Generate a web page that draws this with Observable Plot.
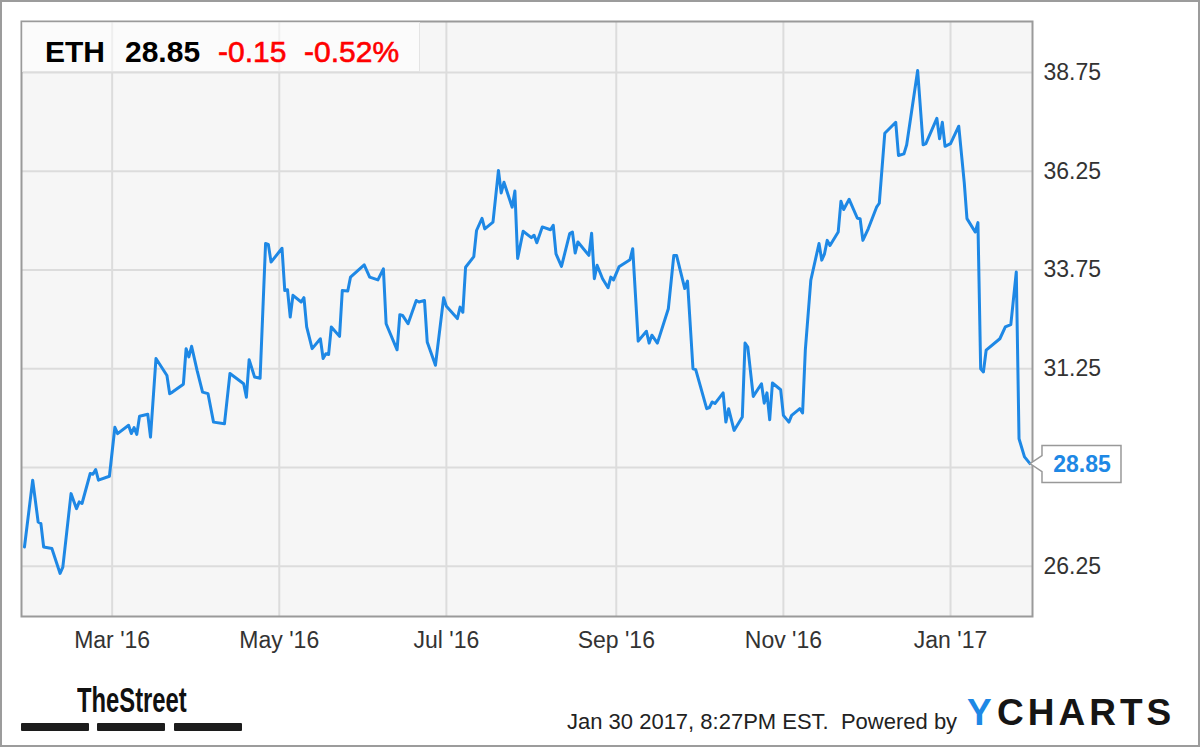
<!DOCTYPE html>
<html><head><meta charset="utf-8">
<script src="https://cdn.jsdelivr.net/npm/d3@7"></script>
<script src="https://cdn.jsdelivr.net/npm/@observablehq/plot@0.6"></script>
<style>
html,body{margin:0;padding:0;background:#fff;}
#wrap{position:relative;width:1200px;height:747px;overflow:hidden;font-family:"Liberation Sans",Arial,sans-serif;}
#chart{position:absolute;left:0;top:0;}
#border{position:absolute;left:0;top:0;width:1200px;height:747px;box-sizing:border-box;border:2px solid #9c9c9c;pointer-events:none;}
#header{position:absolute;left:22px;top:22px;width:397px;height:49px;background:rgba(255,255,255,0.55);border-right:1px solid #e4e4e4;border-bottom:1px solid #e4e4e4;}
#header span{position:absolute;top:15px;font-size:30px;line-height:30px;white-space:nowrap;}
.abs{position:absolute;white-space:nowrap;}
.bar{position:absolute;top:723px;height:8px;width:68px;background:#1c1c1c;border-radius:1px;}
</style>
</head><body>
<div id="wrap">
  <div id="chart"></div>
  <div id="header">
    <span id="h-sym" style="left:23px;font-weight:bold;color:#000;"></span>
    <span id="h-last" style="left:103px;font-weight:bold;color:#000;"></span>
    <span id="h-chg" style="left:196px;color:#ff0000;-webkit-text-stroke:0.6px #ff0000;"></span>
    <span id="h-pct" style="left:282px;color:#ff0000;-webkit-text-stroke:0.6px #ff0000;"></span>
  </div>
  <div class="abs" style="left:77px;top:682px;font-size:35px;line-height:35px;font-weight:bold;color:#111;transform:scaleX(0.68);transform-origin:left top;">TheStreet</div>
  <div class="bar" style="left:21px;"></div>
  <div class="bar" style="left:97px;"></div>
  <div class="bar" style="left:174px;"></div>
  <div class="abs" style="left:567px;top:711px;font-size:22px;line-height:22px;color:#222;">Jan 30 2017, 8:27PM EST.&nbsp; Powered by</div>
  <span class="abs" style="left:967px;top:694px;font-size:37px;line-height:37px;font-weight:bold;color:#1e88e5;">Y</span>
  <span class="abs" style="left:997px;top:694px;font-size:37px;line-height:37px;font-weight:bold;letter-spacing:4px;color:#151515;">CHARTS</span>
  <div id="border"></div>
</div>
<script>
const symbol = "ETH";
const lastPrice = "28.85";
const change = "-0.15";
const changePct = "-0.52%";

const dates = [
"2016-01-29","2016-02-01","2016-02-03","2016-02-04","2016-02-05","2016-02-08","2016-02-11","2016-02-12","2016-02-15","2016-02-17",
"2016-02-18","2016-02-19","2016-02-22","2016-02-23","2016-02-24","2016-02-25","2016-02-29","2016-03-02","2016-03-03","2016-03-07",
"2016-03-08","2016-03-09","2016-03-10","2016-03-11","2016-03-14","2016-03-15","2016-03-17","2016-03-21","2016-03-22","2016-03-23",
"2016-03-27","2016-03-28","2016-03-29","2016-03-30","2016-04-01","2016-04-03","2016-04-05","2016-04-07","2016-04-11","2016-04-13",
"2016-04-18","2016-04-19","2016-04-20","2016-04-22","2016-04-24","2016-04-26","2016-04-27","2016-04-28","2016-05-02","2016-05-03",
"2016-05-04","2016-05-05","2016-05-06","2016-05-09","2016-05-10","2016-05-11","2016-05-13","2016-05-16","2016-05-17","2016-05-18",
"2016-05-19","2016-05-20","2016-05-23","2016-05-24","2016-05-26","2016-05-27","2016-06-01","2016-06-03","2016-06-06","2016-06-08",
"2016-06-09","2016-06-13","2016-06-14","2016-06-15","2016-06-17","2016-06-20","2016-06-21","2016-06-23","2016-06-24","2016-06-27",
"2016-06-30","2016-07-01","2016-07-05","2016-07-06","2016-07-07","2016-07-08","2016-07-11","2016-07-12","2016-07-14","2016-07-15",
"2016-07-18","2016-07-20","2016-07-21","2016-07-22","2016-07-25","2016-07-26","2016-07-27","2016-07-29","2016-08-01","2016-08-02",
"2016-08-03","2016-08-05","2016-08-08","2016-08-09","2016-08-10","2016-08-12","2016-08-15","2016-08-16","2016-08-17","2016-08-18",
"2016-08-22","2016-08-23","2016-08-24","2016-08-25","2016-08-27","2016-08-29","2016-08-30","2016-08-31","2016-09-02","2016-09-06",
"2016-09-07","2016-09-09","2016-09-12","2016-09-13","2016-09-14","2016-09-16","2016-09-20","2016-09-22","2016-09-23","2016-09-26",
"2016-09-27","2016-09-29","2016-09-30","2016-10-04","2016-10-05","2016-10-06","2016-10-07","2016-10-10","2016-10-11","2016-10-12",
"2016-10-14","2016-10-17","2016-10-18","2016-10-19","2016-10-21","2016-10-24","2016-10-25","2016-10-26","2016-10-27","2016-10-28",
"2016-10-31","2016-11-01","2016-11-03","2016-11-04","2016-11-07","2016-11-08","2016-11-09","2016-11-11","2016-11-14","2016-11-15",
"2016-11-16","2016-11-17","2016-11-18","2016-11-21","2016-11-22","2016-11-23","2016-11-25","2016-11-28","2016-11-29","2016-11-30",
"2016-12-02","2016-12-05","2016-12-06","2016-12-08","2016-12-09","2016-12-12","2016-12-13","2016-12-15","2016-12-16","2016-12-20",
"2016-12-22","2016-12-23","2016-12-27","2016-12-28","2016-12-29","2016-12-30","2017-01-01","2017-01-04","2017-01-06","2017-01-07",
"2017-01-10","2017-01-11","2017-01-12","2017-01-13","2017-01-14","2017-01-19","2017-01-21","2017-01-23","2017-01-25","2017-01-26",
"2017-01-28","2017-01-30"
];
const values = [
26.74,28.43,27.37,27.33,26.74,26.70,26.07,26.23,28.09,27.71,
27.88,27.84,28.60,28.58,28.70,28.43,28.53,29.77,29.61,29.82,
29.61,29.76,29.59,30.05,30.10,29.52,31.51,31.08,30.62,30.66,
30.86,31.76,31.55,31.82,31.21,30.66,30.62,29.90,29.86,31.13,
30.87,30.53,31.48,31.04,31.01,34.42,34.40,33.95,34.30,33.23,
33.25,32.56,33.11,32.94,33.05,32.31,31.76,32.01,31.51,31.63,
31.61,32.31,32.07,33.23,33.22,33.57,33.88,33.57,33.50,33.78,
32.39,31.73,32.62,32.60,32.39,32.98,32.94,32.98,31.93,31.34,
33.05,32.83,32.52,32.81,32.68,33.82,34.09,34.75,35.06,34.79,
34.96,36.27,35.70,35.97,35.34,35.75,34.04,34.73,34.57,34.63,
34.44,34.84,34.77,34.88,34.16,33.84,34.67,34.71,34.18,34.46,
34.12,34.68,33.53,33.87,33.53,33.30,33.57,33.50,33.83,34.01,
34.29,31.95,32.20,31.90,32.10,31.90,32.77,34.12,34.12,33.28,
33.47,31.25,31.23,30.24,30.27,30.41,30.37,30.64,29.90,30.24,
29.69,30.03,31.90,31.80,30.55,30.87,30.38,30.64,29.96,30.89,
30.72,30.07,29.90,30.07,30.24,30.13,31.72,33.49,34.42,34.00,
34.16,34.50,34.37,34.71,35.49,35.28,35.54,35.06,35.05,34.50,
34.80,35.34,35.44,37.21,37.28,37.49,36.65,36.69,36.92,38.80,
36.92,36.95,37.59,37.07,37.49,36.88,36.95,37.39,35.97,35.05,
34.71,34.95,31.25,31.17,31.72,32.01,32.31,32.37,33.70,29.48,
29.02,28.85
];
// horizontal gridlines
const yTicks = [26.25, 28.75, 31.25, 33.75, 36.25, 38.75];
// tick labels shown on the right axis (28.75 sits under the last-value box)
const yTickLabels = [26.25, 31.25, 33.75, 36.25, 38.75];
const xTicks = ["2016-03-01","2016-05-01","2016-07-01","2016-09-01","2016-11-01","2017-01-01"];

document.getElementById("h-sym").textContent = symbol;
document.getElementById("h-last").textContent = lastPrice;
document.getElementById("h-chg").textContent = change;
document.getElementById("h-pct").textContent = changePct;

const data = dates.map((d, i) => ({date: new Date(d), value: values[i]}));
const last = data[data.length - 1];
const xt = xTicks.map(d => new Date(d));
const font = '"Liberation Sans", Arial, sans-serif';

// callout shape (pointer + box), drawn relative to the last data point
const calloutSymbol = {
  draw(ctx) {
    ctx.moveTo(0, 0);
    ctx.lineTo(12, -8);
    ctx.lineTo(12, -18);
    ctx.lineTo(91, -18);
    ctx.lineTo(91, 19);
    ctx.lineTo(12, 19);
    ctx.lineTo(12, 8);
    ctx.closePath();
  }
};

const chart = Plot.plot({
  width: 1200, height: 660,
  marginLeft: 21, marginRight: 168, marginTop: 21, marginBottom: 44,
  style: {fontFamily: font, fontSize: "23px", color: "#333", background: "white", overflow: "visible"},
  x: {type: "utc", domain: [new Date(Date.UTC(2016, 0, 27, 22)), new Date(Date.UTC(2017, 0, 30, 22))]},
  y: {domain: [24.98, 40.04]},
  marks: [
    Plot.frame({fill: "#f6f6f6", stroke: "none"}),
    Plot.gridX(xt, {stroke: "#dcdcdc", strokeOpacity: 1, strokeWidth: 2}),
    Plot.gridY(yTicks, {stroke: "#dcdcdc", strokeOpacity: 1, strokeWidth: 2}),
    Plot.axisX(xt, {tickSize: 0, tickPadding: 15, tickFormat: d3.utcFormat("%b '%y"), fontSize: 23, fill: "#333", label: null}),
    Plot.axisY(yTickLabels, {anchor: "right", tickSize: 0, tickPadding: 11, tickFormat: d => d.toFixed(2), fontSize: 23, fill: "#333", label: null}),
    Plot.lineY(data, {x: "date", y: "value", stroke: "#1e88e5", strokeWidth: 3, strokeLinejoin: "round"}),
    Plot.frame({stroke: "#9a9a9a", strokeWidth: 2}),
    Plot.dot([last], {x: "date", y: "value", symbol: calloutSymbol, r: 10, fill: "white", stroke: "#999", strokeWidth: 1.5}),
    Plot.text([last], {x: "date", y: "value", text: d => d.value.toFixed(2), dx: 52, dy: 1, textAnchor: "middle",
      fontSize: 23, fontWeight: "bold", fill: "#1e88e5"})
  ]
});
document.getElementById("chart").appendChild(chart);
</script>
</body></html>
